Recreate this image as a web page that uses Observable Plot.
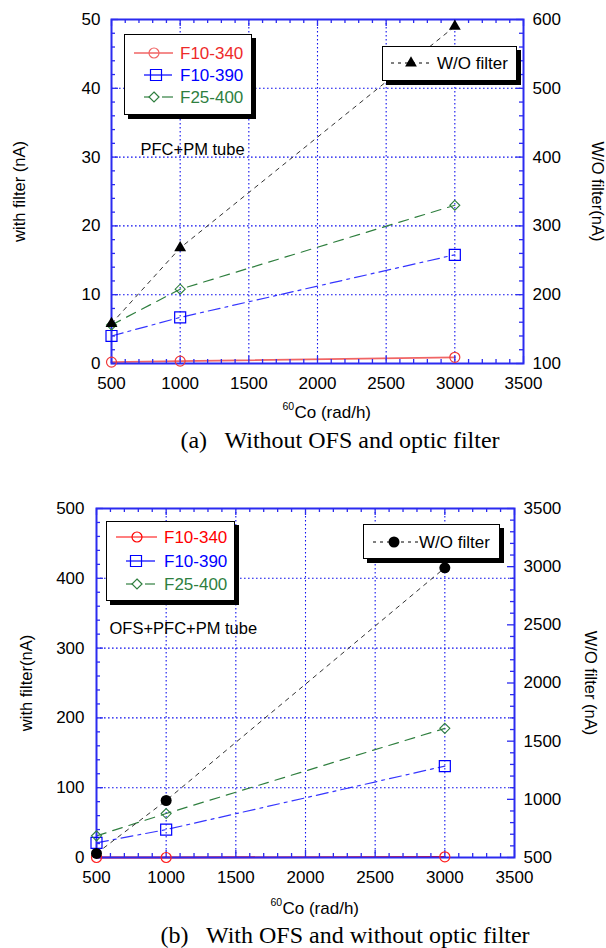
<!DOCTYPE html>
<html><head><meta charset="utf-8">
<script src="https://cdn.jsdelivr.net/npm/d3@7"></script>
<script src="https://cdn.jsdelivr.net/npm/@observablehq/plot@0.6"></script>
<style>
body{margin:0;background:#fff;}
#root{position:relative;width:606px;height:948px;overflow:hidden;background:#fff;font-family:"Liberation Sans",Arial,sans-serif;}
.plot{position:absolute;left:0;}
.caption{position:absolute;transform:translate(-50%,-50%);white-space:nowrap;font-family:"Liberation Serif","Times New Roman",serif;font-size:24px;color:#000;}
.legend{position:absolute;background:#fff;border:1.5px solid #000;box-shadow:4px 4px 0 #000;box-sizing:border-box;}
.legend svg{position:absolute;left:0;top:0;overflow:visible;}
</style></head>
<body><div id="root"></div>
<script>
// ---------- data ----------
const doseRate = [500, 1000, 3000];
const xTicks = [500, 1000, 1500, 2000, 2500, 3000, 3500];
const xGridTicks = [1000, 1500, 2000, 2500, 3000];
const seriesNames = ["F10-340", "F10-390", "F25-400", "W/O filter"];

// (a) Without OFS and optic filter
const aF10_340 = [0.2, 0.35, 0.9];
const aF10_390 = [4.0, 6.7, 15.8];
const aF25_400 = [5.6, 10.8, 23.0];
const aWO = [158, 268, 590];
const aLeftTicks = [0, 10, 20, 30, 40, 50];
const aRightTicks = [100, 200, 300, 400, 500, 600];
const aGridY = [10, 20, 30, 40];

// (b) With OFS and without optic filter
const bF10_340 = [0, 0, 1];
const bF10_390 = [21, 40, 131];
const bF25_400 = [31, 63, 185];
const bWO = [535, 990, 2990];
const bLeftTicks = [0, 100, 200, 300, 400, 500];
const bRightTicks = [500, 1000, 1500, 2000, 2500, 3000, 3500];
const bGridY = [100, 200, 300, 400];

// ---------- styles ----------
const BLUE = "#2b2bf0";
const GRID = "#1010ee";
const GREEN = "#2f7f3f";
const FONT = "Liberation Sans, Arial, sans-serif";

const root = document.getElementById("root");

function drawChart(o) {
  const fw = o.width - o.ml - o.mr, fh = o.height - o.mt - o.mb;
  const yMax = o.leftTicks[o.leftTicks.length - 1];
  const rMin = o.rightTicks[0], rMax = o.rightTicks[o.rightTicks.length - 1];
  const toL = v => (v - rMin) / (rMax - rMin) * yMax;
  const fromL = d => String(Math.round(rMin + d / yMax * (rMax - rMin)));
  const rows = vals => doseRate.map((x, i) => ({x, y: vals[i]}));
  const s1 = rows(o.s1), s2 = rows(o.s2), s3 = rows(o.s3);
  const wo = doseRate.map((x, i) => ({x, y: toL(o.wo[i])}));
  const xMinor = d3.range(600, 3500, 100).filter(v => v % 500 !== 0);
  const yMinor = d3.range(o.leftMinor, yMax, o.leftMinor).filter(v => v % o.leftStep !== 0);
  const rMinorT = d3.range(rMin + o.rightMinor, rMax, o.rightMinor).filter(v => (v - rMin) % o.rightStep !== 0).map(toL);
  const rMajorT = o.rightTicks.map(toL);
  const tk = {stroke: BLUE, strokeWidth: 1.3};
  const grid = {stroke: GRID, strokeWidth: 1.1, strokeDasharray: "1.6,2.4"};
  const plot = Plot.plot({
    width: o.width, height: o.height,
    marginLeft: o.ml, marginRight: o.mr, marginTop: o.mt, marginBottom: o.mb,
    style: {fontFamily: FONT, fontSize: "17px", background: "none", overflow: "visible"},
    x: {domain: [500, 3500]},
    y: {domain: [0, yMax]},
    marks: [
      // grid
      Plot.ruleX(xGridTicks, {x: d => d, ...grid}),
      Plot.ruleY(o.gridY, {y: d => d, ...grid}),
      // lines
      Plot.line(s1, {x: "x", y: "y", stroke: o.red, strokeWidth: 1.8}),
      Plot.line(s2, {x: "x", y: "y", stroke: "#3535ff", strokeWidth: 1.2, strokeDasharray: "12,5,3,5"}),
      Plot.line(s3, {x: "x", y: "y", stroke: GREEN, strokeWidth: 1.2, strokeDasharray: "10,7"}),
      Plot.line(wo, {x: "x", y: "y", stroke: "#333", strokeWidth: 1, strokeDasharray: "4,5"}),
      // frame
      Plot.frame({stroke: BLUE, strokeWidth: 2}),
      // inward ticks
      Plot.ruleX(xTicks, {x: d => d, insetTop: fh - 7, ...tk}),
      Plot.ruleX(xTicks, {x: d => d, insetBottom: fh - 7, ...tk}),
      Plot.ruleX(xMinor, {x: d => d, insetTop: fh - 4, ...tk}),
      Plot.ruleX(xMinor, {x: d => d, insetBottom: fh - 4, ...tk}),
      Plot.ruleY(o.leftTicks, {y: d => d, insetRight: fw - 7, ...tk}),
      Plot.ruleY(yMinor, {y: d => d, insetRight: fw - 4, ...tk}),
      Plot.ruleY(rMajorT, {y: d => d, insetLeft: fw - 7, ...tk}),
      Plot.ruleY(rMinorT, {y: d => d, insetLeft: fw - 4, ...tk}),
      // axes labels
      Plot.axisX({ticks: xTicks, anchor: "bottom", tickSize: 0, tickPadding: 13, tickFormat: d => String(d), label: null, fontSize: 17}),
      Plot.axisY({ticks: o.leftTicks, anchor: "left", tickSize: 0, tickPadding: o.lpad, tickFormat: d => String(d), label: null, fontSize: 17}),
      Plot.axisY({ticks: rMajorT, anchor: "right", tickSize: 0, tickPadding: 9, tickFormat: fromL, label: null, fontSize: 17}),
      // markers
      Plot.dot(s1, {x: "x", y: "y", symbol: "circle", r: 5, stroke: o.redMark, strokeWidth: 1.2, fill: "none"}),
      Plot.dot(s2, {x: "x", y: "y", symbol: "square", r: 6.2, stroke: "#0000ff", strokeWidth: 1.2, fill: "none"}),
      Plot.dot(s3, {x: "x", y: "y", symbol: "diamond2", r: 4.5, stroke: GREEN, strokeWidth: 1.1, fill: "none"}),
      Plot.dot(wo, {x: "x", y: "y", symbol: o.woSymbol, r: o.woR, fill: "#000", stroke: "none"}),
      // annotation
      Plot.text([o.note], {text: d => d, frameAnchor: "top-left", dx: o.noteDx, dy: o.noteDy, textAnchor: "start", lineAnchor: "middle", fontSize: 16.5, fill: "#000"}),
      // axis titles
      Plot.text([o.yLabel], {text: d => d, frameAnchor: "left", dx: o.yLabelDx, rotate: -90, textAnchor: "middle", lineAnchor: "middle", fontSize: 16.5, fill: "#000"}),
      Plot.text([o.rLabel], {text: d => d, frameAnchor: "right", dx: o.rLabelDx, rotate: 90, textAnchor: "middle", lineAnchor: "middle", fontSize: 16.5, fill: "#000"}),
      Plot.text(["60"], {text: d => d, frameAnchor: "bottom", dx: -35, dy: o.xLabelDy - 6, textAnchor: "start", lineAnchor: "middle", fontSize: 10.5, fill: "#000"}),
      Plot.text(["Co (rad/h)"], {text: d => d, frameAnchor: "bottom", dx: -23, dy: o.xLabelDy, textAnchor: "start", lineAnchor: "middle", fontSize: 17, fill: "#000"})
    ]
  });
  plot.classList.add("plot");
  plot.style.top = o.top + "px";
  root.appendChild(plot);
}

function symbolPath(type, cx, cy, size) {
  const sym = {circle: d3.symbolCircle, square: d3.symbolSquare, diamond2: d3.symbolDiamond2, triangle: d3.symbolTriangle}[type];
  return `<path transform="translate(${cx},${cy})" d="${d3.symbol(sym, size)()}"/>`;
}

function legend(box, entries) {
  const div = document.createElement("div");
  div.className = "legend";
  Object.assign(div.style, {left: box.left + "px", top: box.top + "px", width: box.w + "px", height: box.h + "px"});
  let s = `<svg width="${box.w}" height="${box.h}" font-family="${FONT}" font-size="17">`;
  for (const e of entries) {
    for (const seg of e.segs) s += `<line x1="${seg[0]}" x2="${seg[1]}" y1="${e.y}" y2="${e.y}" stroke="${e.color}" stroke-width="${e.lw || 1.2}" ${e.dash ? `stroke-dasharray="${e.dash}"` : ""}/>`;
    s += `<g fill="${e.fill}" stroke="${e.fill === "none" ? e.color : "none"}" stroke-width="1.2">${symbolPath(e.symbol, e.mx, e.y, e.size)}</g>`;
    s += `<text x="${e.tx}" y="${e.y}" dy="0.36em" fill="${e.textColor}">${e.label}</text>`;
  }
  s += "</svg>";
  div.innerHTML = s;
  root.appendChild(div);
}

function caption(text, cx, cy) {
  const d = document.createElement("div");
  d.className = "caption";
  d.style.left = cx + "px"; d.style.top = cy + "px";
  d.innerHTML = text;
  root.appendChild(d);
}

// (a)
drawChart({
  top: 0, width: 606, height: 425, ml: 111, mr: 83, mt: 19, mb: 62,
  s1: aF10_340, s2: aF10_390, s3: aF25_400, wo: aWO,
  leftTicks: aLeftTicks, rightTicks: aRightTicks, gridY: aGridY,
  leftStep: 10, leftMinor: 2, rightStep: 100, rightMinor: 20,
  red: "#f06565", redMark: "#f03a3a", woSymbol: "triangle", woR: 4.4,
  lpad: 11, note: "PFC+PM tube", noteDx: 29, noteDy: 130,
  yLabel: "with filter (nA)", yLabelDx: -92, rLabel: "W/O filter(nA)", rLabelDx: 74, xLabelDy: 49
});
legend({left: 124, top: 34, w: 128, h: 81}, [
  {label: seriesNames[0], color: "#f06565", textColor: "#ee2a2a", segs: [[9, 48]], lw: 1.6, symbol: "circle", fill: "none", mx: 29, y: 18, size: 78, tx: 55},
  {label: seriesNames[1], color: "#0000ff", textColor: "#0000ff", segs: [[19, 47]], symbol: "square", fill: "none", mx: 31, y: 40, size: 121, tx: 55},
  {label: seriesNames[2], color: GREEN, textColor: GREEN, segs: [[19, 25], [37, 48]], symbol: "diamond2", fill: "none", mx: 29, y: 62, size: 64, tx: 55}
]);
legend({left: 382, top: 46, w: 135, h: 35}, [
  {label: seriesNames[3], color: "#000", textColor: "#000", segs: [[8, 50]], dash: "3,4", lw: 1, symbol: "triangle", fill: "#000", mx: 28, y: 16, size: 60, tx: 54}
]);
caption("(a)&nbsp;&nbsp; Without OFS and optic filter", 340, 440);

// (b)
drawChart({
  top: 488, width: 606, height: 432, ml: 96, mr: 92, mt: 20, mb: 63,
  s1: bF10_340, s2: bF10_390, s3: bF25_400, wo: bWO,
  leftTicks: bLeftTicks, rightTicks: bRightTicks, gridY: bGridY,
  leftStep: 100, leftMinor: 20, rightStep: 500, rightMinor: 100,
  red: "#ff0000", redMark: "#ff2020", woSymbol: "circle", woR: 5.5,
  lpad: 12, note: "OFS+PFC+PM tube", noteDx: 13, noteDy: 120,
  yLabel: "with filter(nA)", yLabelDx: -70, rLabel: "W/O filter (nA)", rLabelDx: 76, xLabelDy: 51
});
legend({left: 106, top: 521, w: 129, h: 80}, [
  {label: seriesNames[0], color: "#ff0000", textColor: "#ff0000", segs: [[9, 50]], symbol: "circle", fill: "none", mx: 30, y: 15, size: 78, tx: 57},
  {label: seriesNames[1], color: "#0000ff", textColor: "#0000ff", segs: [[19, 48]], symbol: "square", fill: "none", mx: 29, y: 39, size: 121, tx: 57},
  {label: seriesNames[2], color: GREEN, textColor: GREEN, segs: [[19, 25], [38, 48]], symbol: "diamond2", fill: "none", mx: 30, y: 62, size: 64, tx: 57}
]);
legend({left: 363, top: 524, w: 137, h: 35}, [
  {label: seriesNames[3], color: "#000", textColor: "#000", segs: [[9, 54]], dash: "3,4", lw: 1, symbol: "circle", fill: "#000", mx: 30, y: 17, size: 95, tx: 55}
]);
caption("(b)&nbsp;&nbsp; With OFS and without optic filter", 345, 935);
</script>
</body></html>
